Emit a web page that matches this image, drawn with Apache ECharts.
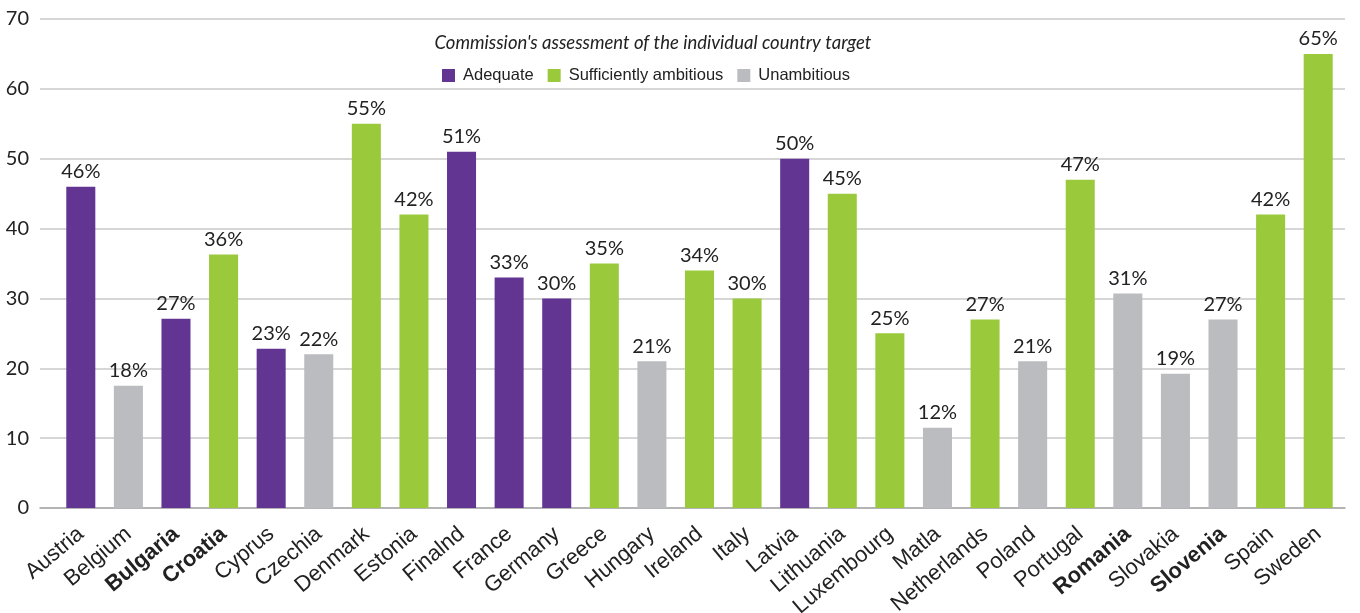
<!DOCTYPE html>
<html>
<head>
<meta charset="utf-8">
<script src="https://cdn.jsdelivr.net/npm/echarts@6/dist/echarts.min.js"></script>
<style>
  html, body { margin: 0; padding: 0; background: #fff; }
  #chart { width: 1360px; height: 613px; }
</style>
</head>
<body>
<div id="chart"></div>
<script>
// Country targets (%) and the Commission's assessment of each
const countries = ['Austria', 'Belgium', 'Bulgaria', 'Croatia', 'Cyprus', 'Czechia', 'Denmark', 'Estonia',
  'Finalnd', 'France', 'Germany', 'Greece', 'Hungary', 'Ireland', 'Italy', 'Latvia', 'Lithuania',
  'Luxembourg', 'Matla', 'Netherlands', 'Poland', 'Portugal', 'Romania', 'Slovakia', 'Slovenia', 'Spain', 'Sweden'];
const targets = [46, 17.5, 27.1, 36.3, 22.8, 22, 55, 42, 51, 33, 30, 35, 21, 34, 30, 50, 45, 25, 11.5, 27, 21,
  47, 30.7, 19.2, 27, 42, 65];
// A = Adequate, S = Sufficiently ambitious, U = Unambitious
const assessment = ['A', 'U', 'A', 'S', 'A', 'U', 'S', 'S', 'A', 'A', 'A', 'S', 'U', 'S', 'S', 'A', 'S',
  'S', 'U', 'S', 'U', 'S', 'U', 'U', 'U', 'S', 'S'];
const boldCountries = ['Bulgaria', 'Croatia', 'Romania', 'Slovenia'];
const yTicks = [0, 10, 20, 30, 40, 50, 60, 70];

const groups = [
  { key: 'A', name: 'Adequate', color: '#623593' },
  { key: 'S', name: 'Sufficiently ambitious', color: '#9aca3c' },
  { key: 'U', name: 'Unambitious', color: '#bbbcc0' }
];

const series = groups.map(g => ({
  name: g.name,
  type: 'bar',
  xAxisIndex: 1,
  yAxisIndex: 1,
  stack: 'one',
  barCategoryGap: '39%',
  itemStyle: { color: g.color },
  data: targets.map((v, i) => assessment[i] === g.key ? v : '-'),
  label: {
    show: true,
    position: 'top',
    distance: 5,
    color: '#222',
    fontFamily: 'Lato',
    fontSize: 20,
    formatter: p => Math.round(p.value) + '%'
  }
}));

const chart = echarts.init(document.getElementById('chart'), null, { renderer: 'canvas' });
chart.setOption({
  animation: false,
  title: {
    text: "Commission's assessment of the individual country target",
    left: 648,
    textAlign: 'center',
    top: 29,
    textStyle: { fontFamily: 'Lato', fontStyle: 'italic', fontWeight: 'normal', fontSize: 18.5, color: '#222' }
  },
  legend: {
    left: 437,
    top: 62,
    itemWidth: 13,
    itemHeight: 13,
    itemGap: 14,
    icon: 'rect',
    textStyle: { fontFamily: 'Liberation Sans', fontSize: 16.5, color: '#222', padding: [0, 0, 0, 3] },
    data: groups.map(g => g.name)
  },
  grid: [
    { left: 40, right: 15, top: 19, bottom: 105, outerBoundsMode: 'none' },
    { left: 57, right: 18, top: 19, bottom: 105, outerBoundsMode: 'none' }
  ],
  xAxis: [
    {
      gridIndex: 0, type: 'category', data: countries,
      axisLine: { show: true, lineStyle: { color: '#a9a9ad', width: 1.5 } },
      axisTick: { show: false }, axisLabel: { show: false }
    },
    {
      gridIndex: 1, type: 'category', data: countries,
      axisLine: { show: false }, axisTick: { show: false },
      axisLabel: {
        rotate: 40,
        margin: 9,
        interval: 0,
        verticalAlign: 'top',
        padding: [0, 9, 0, 0],
        fontFamily: 'Liberation Sans',
        fontSize: 22,
        color: '#222',
        formatter: v => boldCountries.includes(v) ? '{b|' + v + '}' : v,
        rich: { b: { fontWeight: 'bold', fontFamily: 'Liberation Sans', fontSize: 22, color: '#222' } }
      }
    }
  ],
  yAxis: [
    {
      gridIndex: 0, type: 'value', min: yTicks[0], max: yTicks[yTicks.length - 1], interval: 10,
      axisLine: { show: false }, axisTick: { show: false },
      axisLabel: { margin: 11, fontFamily: 'Lato', fontSize: 20, color: '#222' },
      splitLine: { show: true, lineStyle: { color: '#c8c8c8', width: 1.5 } }
    },
    {
      gridIndex: 1, type: 'value', min: yTicks[0], max: yTicks[yTicks.length - 1], interval: 10,
      axisLine: { show: false }, axisTick: { show: false }, axisLabel: { show: false },
      splitLine: { show: false }
    }
  ],
  series: series
});
</script>
</body>
</html>
